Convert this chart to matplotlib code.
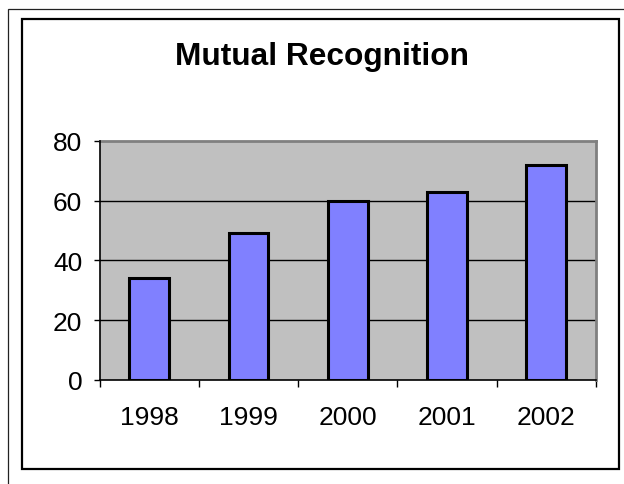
import matplotlib
matplotlib.use("Agg")
import matplotlib.pyplot as plt
from matplotlib.patches import Rectangle
import numpy as np

years = ["1998", "1999", "2000", "2001", "2002"]
values = [34, 49, 60, 63, 72]
yticks = [0, 20, 40, 60, 80]
title = "Mutual Recognition"

plt.rcParams['font.family'] = ['Liberation Sans', 'DejaVu Sans']

W, H = 624, 485
fig = plt.figure(figsize=(W / 100, H / 100), dpi=100)
fig.patch.set_facecolor("white")

def fr(x0, y0, x1, y1):
    return (x0 / W, 1 - y1 / H), (x1 - x0) / W, (y1 - y0) / H

# outer thin frame
xy, w, h = fr(8, 10, 640, 500)
fig.add_artist(Rectangle(xy, w, h, transform=fig.transFigure, fill=False,
                         edgecolor="#222222", linewidth=0.9))
# inner frame
xy, w, h = fr(22, 20, 619, 470)
fig.add_artist(Rectangle(xy, w, h, transform=fig.transFigure, fill=False,
                         edgecolor="black", linewidth=1.6))

ax = fig.add_axes([99.5 / W, 1 - 381 / H, (596 - 99.5) / W, (381 - 141.7) / H])
ax.set_facecolor("#C0C0C0")
x = np.arange(len(years))
ax.bar(x, values, width=0.4, color="#8080FF", edgecolor="black", linewidth=2.2, zorder=3)

ax.set_xlim(-0.5, len(years) - 0.5)
ax.set_ylim(0, 80)
ax.set_yticks(yticks)
ax.set_yticklabels([str(v) for v in yticks])
for v in yticks[1:-1]:
    ax.axhline(v, color="black", linewidth=1.0, zorder=1)

ax.set_xticks(np.arange(-0.5, len(years), 1.0))
ax.set_xticklabels([])
ax.set_xticks(x, minor=True)
ax.set_xticklabels(years, minor=True)
ax.tick_params(axis="x", which="major", direction="out", length=5, width=1.0, color="black")
ax.tick_params(axis="x", which="minor", length=0, pad=18, labelsize=19)
ax.tick_params(axis="y", direction="out", length=4.5, width=1.0, pad=8, labelsize=19)

for s in ["top", "right"]:
    ax.spines[s].set_color("#808080")
    ax.spines[s].set_linewidth(2.0)
for s in ["left", "bottom"]:
    ax.spines[s].set_color("black")
    ax.spines[s].set_linewidth(1.2)
    ax.spines[s].set_zorder(4)

fig.text(322 / W, 1 - 65 / H, title, ha="center", va="baseline",
         fontsize=22.8, fontweight="bold")

fig.savefig("out.png", dpi=100)
